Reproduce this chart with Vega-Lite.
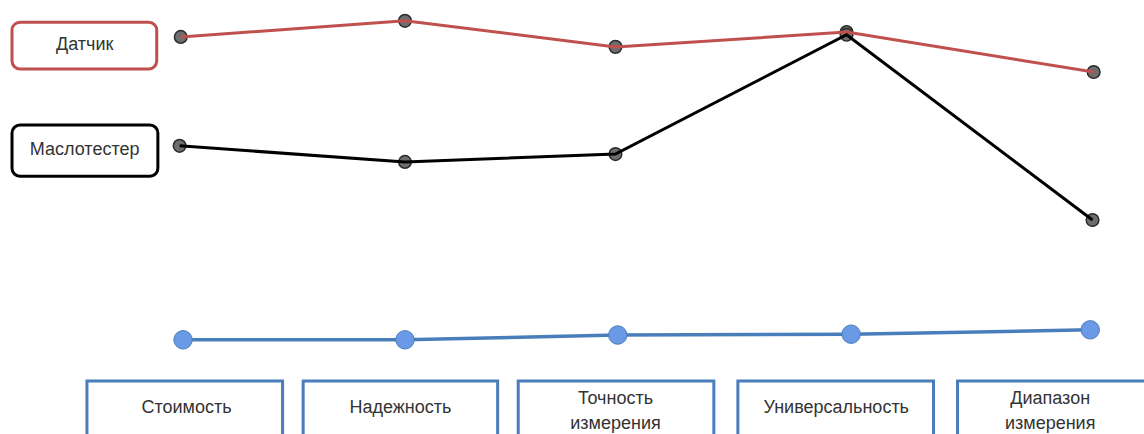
{
  "$schema": "https://vega.github.io/schema/vega-lite/v6.json",
  "width": 1144,
  "height": 434,
  "padding": 0,
  "autosize": {"type": "none"},
  "config": {"view": {"stroke": null}, "font": "Liberation Sans"},
  "datasets": {
    "series": [
      {"series": "Датчик", "criterion": "Стоимость", "pos": 15.8, "score": 91.5},
      {"series": "Датчик", "criterion": "Надежность", "pos": 35.4, "score": 95.2},
      {"series": "Датчик", "criterion": "Точность измерения", "pos": 53.8, "score": 89.2},
      {"series": "Датчик", "criterion": "Универсальность", "pos": 74.0, "score": 92.6},
      {"series": "Датчик", "criterion": "Диапазон измерения", "pos": 95.6, "score": 83.4},
      {"series": "Маслотестер", "criterion": "Стоимость", "pos": 15.7, "score": 66.4},
      {"series": "Маслотестер", "criterion": "Надежность", "pos": 35.4, "score": 62.7},
      {"series": "Маслотестер", "criterion": "Точность измерения", "pos": 53.8, "score": 64.5},
      {"series": "Маслотестер", "criterion": "Универсальность", "pos": 74.0, "score": 92.0},
      {"series": "Маслотестер", "criterion": "Диапазон измерения", "pos": 95.5, "score": 49.3}
    ],
    "base": [
      {"criterion": "Стоимость", "pos": 16.0, "score": 21.7},
      {"criterion": "Надежность", "pos": 35.4, "score": 21.7},
      {"criterion": "Точность измерения", "pos": 54.0, "score": 22.8},
      {"criterion": "Универсальность", "pos": 74.4, "score": 23.0},
      {"criterion": "Диапазон измерения", "pos": 95.3, "score": 24.0}
    ],
    "boxes": [
      {"label": "Стоимость", "x0": 7.6, "x1": 24.7, "mid": 16.3, "top": 12.2, "bottom": -5, "ty": 6.0},
      {"label": "Надежность", "x0": 26.5, "x1": 43.5, "mid": 35.0, "top": 12.2, "bottom": -5, "ty": 6.0},
      {"label": "Точность\nизмерения", "x0": 45.3, "x1": 62.4, "mid": 53.8, "top": 12.2, "bottom": -5, "ty": 8.1},
      {"label": "Универсальность", "x0": 64.5, "x1": 81.6, "mid": 73.1, "top": 12.2, "bottom": -5, "ty": 6.0},
      {"label": "Диапазон\nизмерения", "x0": 83.7, "x1": 100.9, "mid": 91.8, "top": 12.2, "bottom": -5, "ty": 8.1}
    ],
    "legend": [
      {"series": "Датчик", "x0": 1.05, "x1": 13.7, "top": 94.9, "bottom": 84.1, "tx": 7.4, "ty": 89.6},
      {"series": "Маслотестер", "x0": 1.05, "x1": 13.8, "top": 71.2, "bottom": 59.4, "tx": 7.4, "ty": 65.4}
    ]
  },
  "layer": [
    {
      "data": {"name": "boxes"},
      "mark": {"type": "rect", "fill": "white", "stroke": "#4a7ebb", "strokeWidth": 3, "clip": true},
      "encoding": {
        "x": {"field": "x0", "type": "quantitative", "scale": {"domain": [0, 100]}, "axis": null},
        "x2": {"field": "x1"},
        "y": {"field": "top", "type": "quantitative", "scale": {"domain": [0, 100]}, "axis": null},
        "y2": {"field": "bottom"}
      }
    },
    {
      "data": {"name": "boxes"},
      "mark": {"type": "text", "fontSize": 18, "color": "#333333", "align": "center", "baseline": "middle", "lineBreak": "\n", "lineHeight": 25},
      "encoding": {
        "x": {"field": "mid", "type": "quantitative"},
        "y": {"field": "ty", "type": "quantitative"},
        "text": {"field": "label"}
      }
    },
    {
      "data": {"name": "legend"},
      "mark": {"type": "rect", "fill": "white", "strokeWidth": 3, "cornerRadius": 8},
      "encoding": {
        "x": {"field": "x0", "type": "quantitative"},
        "x2": {"field": "x1"},
        "y": {"field": "top", "type": "quantitative"},
        "y2": {"field": "bottom"},
        "stroke": {"field": "series", "type": "nominal", "scale": {"domain": ["Датчик", "Маслотестер"], "range": ["#c0504d", "#000000"]}, "legend": null}
      }
    },
    {
      "data": {"name": "legend"},
      "mark": {"type": "text", "fontSize": 18, "color": "#333333", "align": "center", "baseline": "middle"},
      "encoding": {
        "x": {"field": "tx", "type": "quantitative"},
        "y": {"field": "ty", "type": "quantitative"},
        "text": {"field": "series"}
      }
    },
    {
      "data": {"name": "series"},
      "mark": {"type": "point", "filled": true, "fill": "#6e6e6e", "stroke": "#2b2b2b", "strokeWidth": 1.5, "size": 160, "opacity": 1},
      "encoding": {
        "x": {"field": "pos", "type": "quantitative"},
        "y": {"field": "score", "type": "quantitative"}
      }
    },
    {
      "data": {"name": "series"},
      "mark": {"type": "line", "strokeWidth": 3},
      "encoding": {
        "x": {"field": "pos", "type": "quantitative"},
        "y": {"field": "score", "type": "quantitative"},
        "detail": {"field": "series", "type": "nominal"},
        "color": {"field": "series", "type": "nominal", "scale": {"domain": ["Датчик", "Маслотестер"], "range": ["#c0504d", "#000000"]}, "legend": null}
      }
    },
    {
      "data": {"name": "base"},
      "mark": {"type": "line", "color": "#4a7ebb", "strokeWidth": 3.5},
      "encoding": {
        "x": {"field": "pos", "type": "quantitative"},
        "y": {"field": "score", "type": "quantitative"}
      }
    },
    {
      "data": {"name": "base"},
      "mark": {"type": "point", "filled": true, "fill": "#6a9ae6", "stroke": "#4a7ebb", "strokeWidth": 1, "size": 340, "opacity": 1},
      "encoding": {
        "x": {"field": "pos", "type": "quantitative"},
        "y": {"field": "score", "type": "quantitative"}
      }
    }
  ]
}
